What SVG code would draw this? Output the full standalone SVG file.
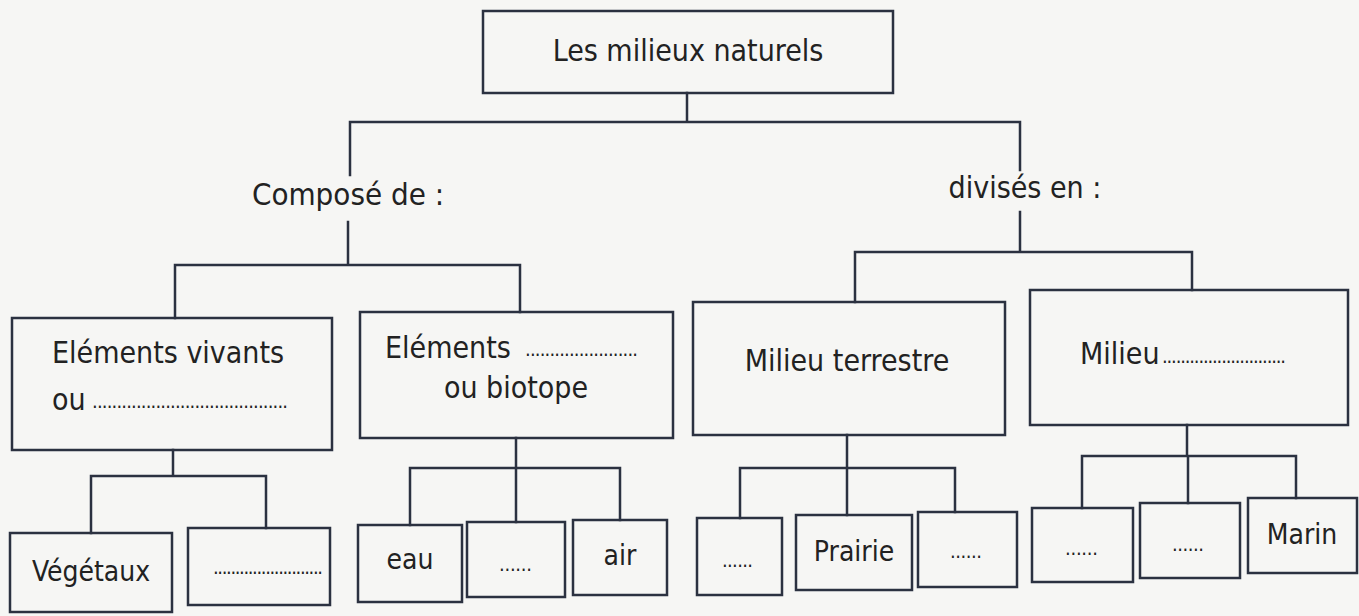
<svg xmlns="http://www.w3.org/2000/svg" width="1359" height="616" viewBox="0 0 1359 616">
<style>
.b{fill:none;stroke:#2b3140;stroke-width:2.5}
.c{fill:none;stroke:#2b3140;stroke-width:2.5;stroke-linecap:square}
text{font-family:"DejaVu Sans Condensed","Liberation Sans Narrow","Liberation Sans",sans-serif;fill:#222;font-size:30px}
.m{text-anchor:middle}
.s{font-size:28px}
.d{font-size:20px}
</style>
<rect width="1359" height="616" fill="#f6f6f4"/>
<g id="connectors">
<path class="c" d="M687 93V122M350 122H1020M350 122V175M1020 122V170"/>
<path class="c" d="M348 222V265M175 265H520M175 265V318M520 265V312"/>
<path class="c" d="M1020 212V252M855 252H1192M855 252V302M1192 252V290"/>
<path class="c" d="M173 450V476M91 476H266M91 476V533M266 476V528"/>
<path class="c" d="M516 438V468M410 468H620M410 468V525M516 468V522M620 468V520"/>
<path class="c" d="M847 435V468M740 468H955M740 468V518M847 468V515M955 468V512"/>
<path class="c" d="M1187 425V456M1082 456H1296M1082 456V508M1188 456V503M1296 456V498"/>
</g>
<g id="root"><rect class="b" x="483" y="11" width="410" height="82"/><text class="m" x="688" y="61">Les milieux naturels</text></g>
<g id="compose"><text class="m" x="348" y="205" style="font-size:31px">Composé de :</text></g>
<g id="divises"><text class="m" x="1025" y="198">divisés en :</text></g>
<g id="vivants"><rect class="b" x="12" y="318" width="320" height="132"/><text x="52" y="363">Eléments vivants</text><text x="52" y="410">ou</text><text class="d" x="92" y="408" textLength="196" lengthAdjust="spacing">........................................</text></g>
<g id="biotope"><rect class="b" x="360" y="312" width="313" height="126"/><text x="385" y="358">Eléments</text><text class="d" x="525" y="356" textLength="113" lengthAdjust="spacing">.......................</text><text class="m" x="516" y="398">ou biotope</text></g>
<g id="terrestre"><rect class="b" x="693" y="302" width="312" height="133"/><text class="m" x="847" y="371">Milieu terrestre</text></g>
<g id="milieu"><rect class="b" x="1030" y="290" width="318" height="135"/><text x="1080" y="364">Milieu</text><text class="d" x="1162" y="363" textLength="124" lengthAdjust="spacing">...........................</text></g>
<g id="vegetaux"><rect class="b" x="10" y="533" width="162" height="79"/><text class="m s" x="91" y="581">Végétaux</text></g>
<g id="animaux"><rect class="b" x="188" y="528" width="142" height="77"/><text class="d" x="213" y="574" textLength="110" lengthAdjust="spacing">.........................</text></g>
<g id="eau"><rect class="b" x="358" y="525" width="104" height="77"/><text class="m s" x="410" y="569">eau</text></g>
<g id="sol"><rect class="b" x="467" y="522" width="98" height="75"/><text class="d" x="499" y="571" textLength="33" lengthAdjust="spacing">......</text></g>
<g id="air"><rect class="b" x="573" y="520" width="94" height="75"/><text class="m s" x="620" y="565">air</text></g>
<g id="t1"><rect class="b" x="697" y="518" width="85" height="77"/><text class="d" x="722" y="567" textLength="31" lengthAdjust="spacing">......</text></g>
<g id="prairie"><rect class="b" x="796" y="515" width="116" height="75"/><text class="m s" x="854" y="561">Prairie</text></g>
<g id="t3"><rect class="b" x="918" y="512" width="99" height="75"/><text class="d" x="950" y="558" textLength="32" lengthAdjust="spacing">......</text></g>
<g id="a1"><rect class="b" x="1032" y="508" width="101" height="74"/><text class="d" x="1065" y="555" textLength="33" lengthAdjust="spacing">......</text></g>
<g id="a2"><rect class="b" x="1140" y="503" width="100" height="75"/><text class="d" x="1172" y="551" textLength="32" lengthAdjust="spacing">......</text></g>
<g id="marin"><rect class="b" x="1248" y="498" width="109" height="75"/><text class="m s" x="1302" y="544">Marin</text></g>
</svg>
